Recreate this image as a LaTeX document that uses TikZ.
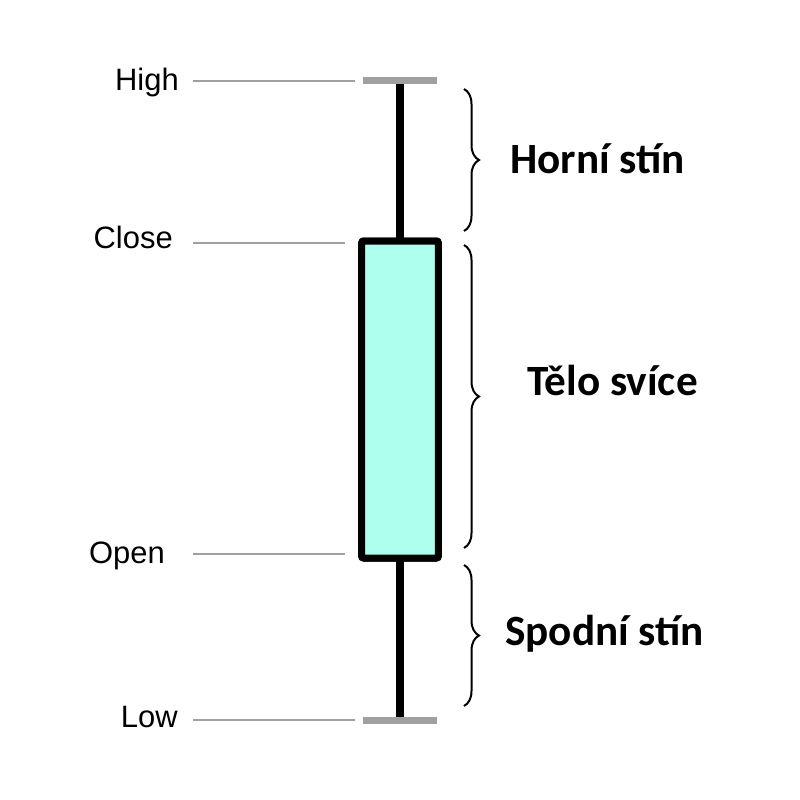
\documentclass[tikz,border=0pt]{standalone}
\usepackage{fontspec}
\setmainfont{Liberation Sans}
\newfontfamily\calibrifont{Carlito}
\usetikzlibrary{
    decorations.pathreplacing,
    positioning
}
\definecolor{body fill}{RGB}{174,255,237}
\definecolor{guide gray}{RGB}{160,160,160}
\tikzset{
    % Guide lines and price labels
    guide line/.style={guide gray,line width=1.5pt},
    price label/.style={anchor=base east,inner sep=0pt,font=\fontsize{23.2}{28}\selectfont},
    %
    % Candle
    wick/.style={line width=6pt},
    cap line/.style={guide gray,line width=5.25pt},
    candle body/.style={draw,fill=body fill,line width=5.25pt,rounded corners=1.5pt,
        minimum width=57.4pt,minimum height=237.75pt,inner sep=0pt,outer sep=0pt},
    %
    % Braces and part labels
    part brace/.style={decorate,decoration={brace,amplitude=11.25pt},line width=1.5pt},
    part label/.style={anchor=base west,inner sep=0pt,font=\calibrifont\bfseries\fontsize{32.4}{38}\selectfont}
}

\begin{document}
\begin{tikzpicture}[x=0.75pt,y=-0.75pt]
    \useasboundingbox (0,0) rectangle (800,800);

    % price labels
    \node[price label] (high) at (179,90) {High};
    \node[price label] (close) at (173,248) {Close};
    \node[price label] (open) at (165,563) {Open};
    \node[price label] (low) at (178,727) {Low};

    % guide lines
    \coordinate (high start) at (193,80.5);
    \coordinate (high end) at (355,80.5);
    \coordinate (close start) at (193,242.5);
    \coordinate (close end) at (345,242.5);
    \coordinate (open start) at (193,554);
    \coordinate (open end) at (345,554);
    \coordinate (low start) at (193,720);
    \coordinate (low end) at (355,720);
    \draw[guide line] (high start) -- (high end);
    \draw[guide line] (close start) -- (close end);
    \draw[guide line] (open start) -- (open end);
    \draw[guide line] (low start) -- (low end);

    % candle
    \coordinate (high cap) at (400,80.5);
    \coordinate (low cap) at (400,720);
    \node[candle body] (body) at (400,399.5) {};
    \draw[wick] (high cap) -- (body.north);
    \draw[wick] (body.south) -- (low cap);
    \node[candle body] at (body) {};
    \draw[cap line] (363,80.5) -- (437,80.5);
    \draw[cap line] (363,720) -- (437,720);

    % braces
    \draw[part brace] (464,89) -- (464,231);
    \draw[part brace] (464,245) -- (464,548);
    \draw[part brace] (464,565) -- (464,706);

    \node[part label] (upper shadow) at (510,173) {Horní stín};
    \node[part label] (real body) at (527,395) {Tělo svíce};
    \node[part label] (lower shadow) at (505,645) {Spodní stín};
\end{tikzpicture}
\end{document}
